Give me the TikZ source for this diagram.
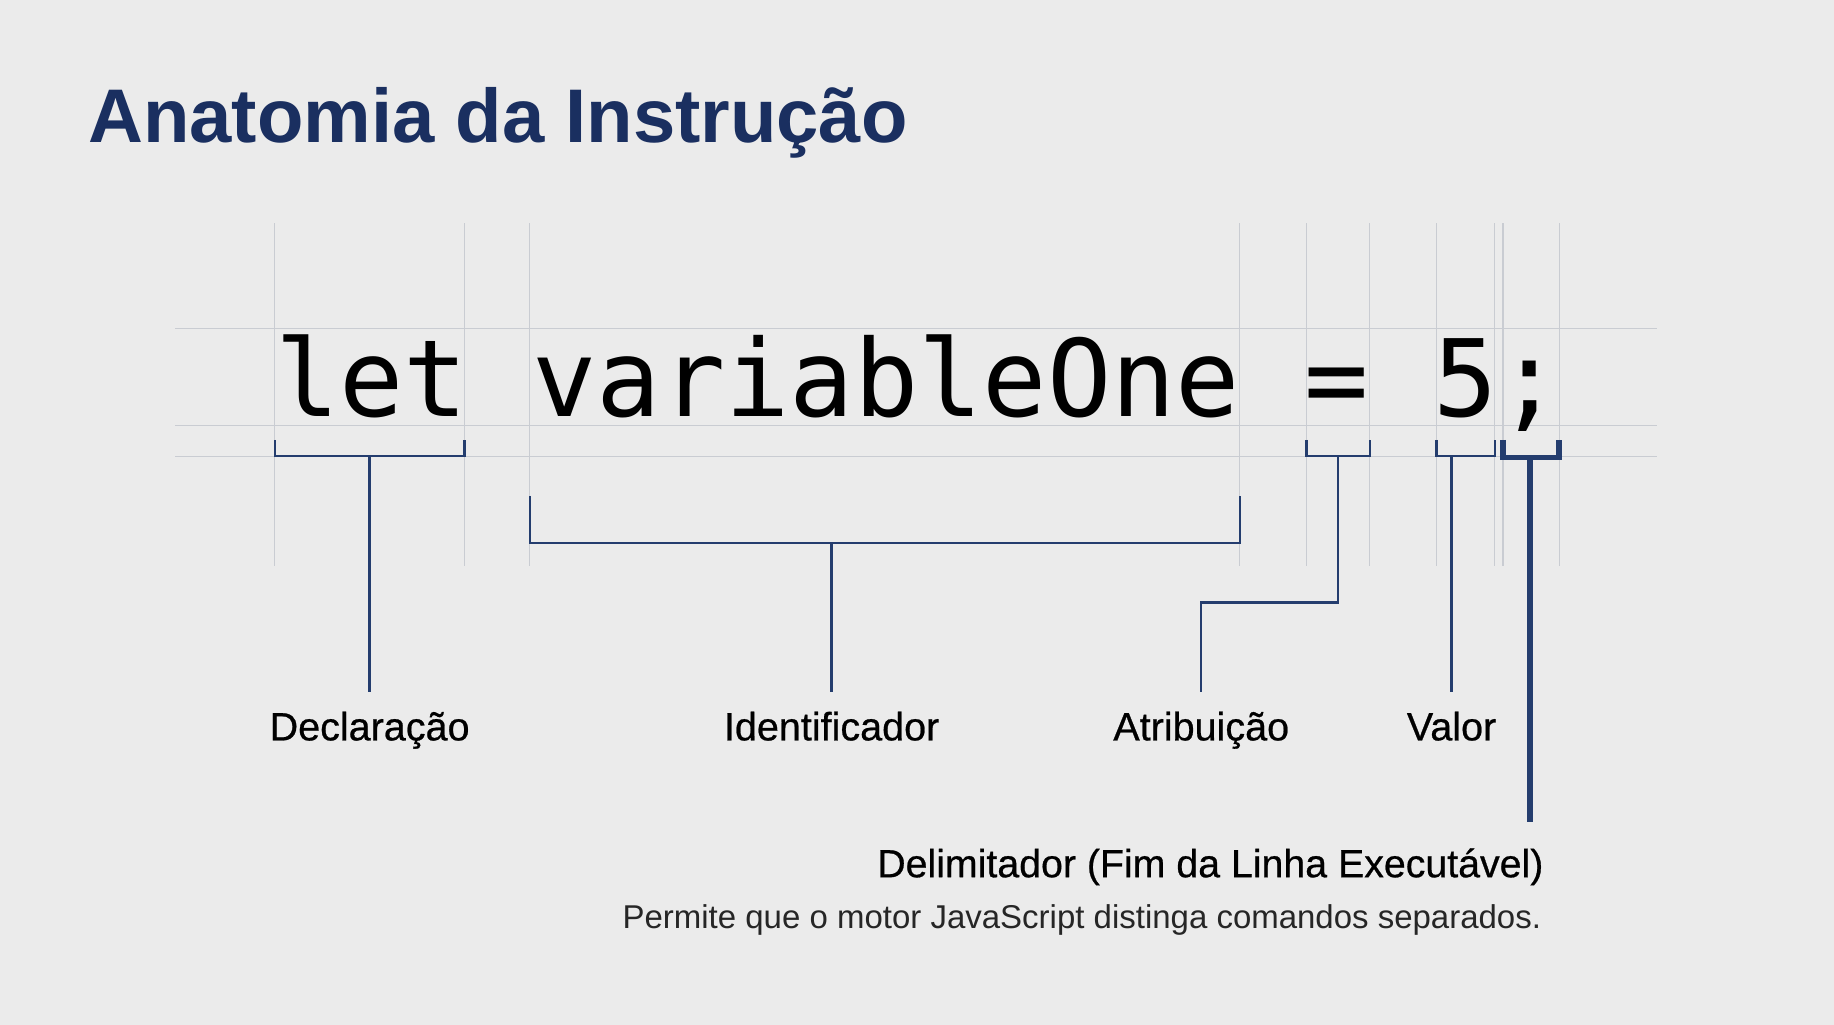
\documentclass[tikz,border=0pt]{standalone}
\usepackage{fontspec}
\setmainfont{Liberation Sans}
\newfontfamily\codefont{DejaVu Sans Mono}
\newfontfamily\labelfont[FakeBold=0.6]{Liberation Sans}
\definecolor{bgc}{HTML}{EBEBEB}
\definecolor{navy}{HTML}{1A2F60}
\definecolor{linec}{HTML}{243D6E}
\definecolor{gridc}{HTML}{C9CCD2}
\definecolor{subc}{HTML}{262626}
\tikzset{
  gridline/.style={draw=gridc, line width=0.5pt},
  bracketline/.style={draw=linec, line width=1pt, line join=miter},
  delimline/.style={draw=linec, line width=2.3pt, line join=miter},
  labeltext/.style={inner sep=0pt, anchor=base, font=\fontsize{16.9}{20}\labelfont, text=black},
}
\begin{document}
\begin{tikzpicture}[x=0.5pt, y=-0.5pt]
\useasboundingbox (0,0) rectangle (1568,876);
\fill[bgc] (0,0) rectangle (1568,876);

% title
\node[inner sep=0pt, anchor=base west, text=navy, font=\fontsize{32.5}{38}\selectfont\bfseries] (title) at (75,122) {Anatomia da Instrução};

% grid
\foreach \gx in {235,397,453,1060,1117,1171,1228,1278,1285,1333}
  \draw[gridline] (\gx,191) -- (\gx,484);
\foreach \gy in {281,364,390}
  \draw[gridline] (150,\gy) -- (1417,\gy);

% code
\node[inner sep=0pt, anchor=base west, font=\fontsize{45.68}{50}\codefont, text=black] (code) at (235,356) {let variableOne = 5;};

% bracket coordinates
\coordinate (dL) at (235,376); \coordinate (dR) at (397,376); \coordinate (dS) at (316,390);
\coordinate (iL) at (453,424); \coordinate (iR) at (1060,424); \coordinate (iS) at (711,464);
\coordinate (aL) at (1117,376); \coordinate (aR) at (1171,376); \coordinate (aS) at (1144,390);
\coordinate (vL) at (1228,376); \coordinate (vR) at (1278,376); \coordinate (vS) at (1241,390);
\coordinate (sL) at (1285,376); \coordinate (sR) at (1333,376); \coordinate (sS) at (1308,391);

% label nodes
\node[labeltext] (decl) at (316,633) {Declaração};
\node[labeltext] (ident) at (711,633) {Identificador};
\node[labeltext] (attr) at (1027,633) {Atribuição};
\node[labeltext] (val) at (1241,633) {Valor};
\node[inner sep=0pt, anchor=base east, font=\fontsize{16.8}{20}\labelfont, text=black] (delim) at (1320,750) {Delimitador (Fim da Linha Executável)};
\node[inner sep=0pt, anchor=base east, font=\fontsize{14.1}{17}\selectfont, text=subc] (desc) at (1318,794) {Permite que o motor JavaScript distinga comandos separados.};

\coordinate (declE) at (316,592);
\coordinate (identE) at (711,592);
\coordinate (attrE) at (1027,592);
\coordinate (valE) at (1241,592);
\coordinate (delimE) at (1308,703);

% brackets
\draw[bracketline] (dL) -- (dL |- dS) -- (dR |- dS) -- (dR);
\draw[bracketline] (dS) -- (declE);

\draw[bracketline] (iL) -- (iL |- iS) -- (iR |- iS) -- (iR);
\draw[bracketline] (iS) -- (identE);

\draw[bracketline] (aL) -- (aL |- aS) -- (aR |- aS) -- (aR);
\draw[bracketline] (aS) -- (1144,515) -- (1027,515) -- (attrE);

\draw[bracketline] (vL) -- (vL |- vS) -- (vR |- vS) -- (vR);
\draw[bracketline] (vS) -- (valE);

\draw[delimline] (sL) -- (sL |- sS) -- (sR |- sS) -- (sR);
\draw[delimline] (sS) -- (delimE);
\end{tikzpicture}
\end{document}
